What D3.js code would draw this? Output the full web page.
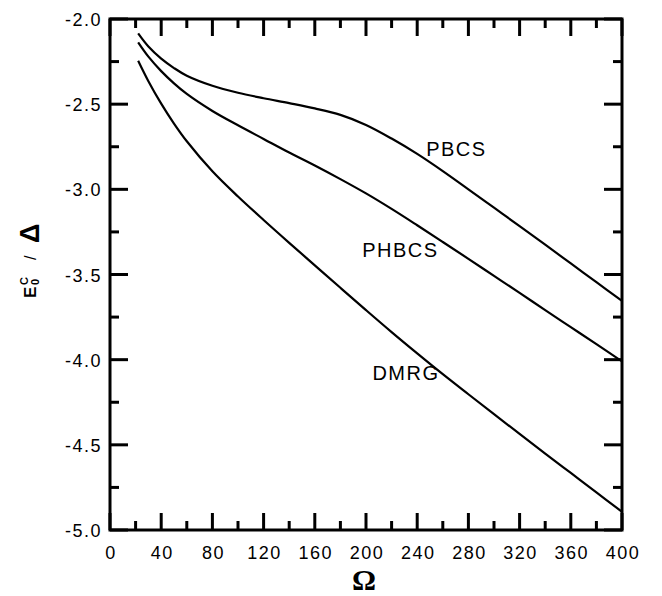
<!DOCTYPE html>
<html>
<head>
<meta charset="utf-8">
<script src="https://d3js.org/d3.v7.min.js"></script>
<style>
  body { margin: 0; background: #fff; }
  svg { display: block; }
</style>
</head>
<body>
<div id="chart"></div>
<script>
var omega = [22, 30, 40, 50, 60, 80, 100, 120, 140, 160, 180, 200, 220, 240, 260, 280, 300, 320, 340, 360, 380, 400];

var pbcs = [-2.085, -2.162, -2.233, -2.288, -2.333, -2.392, -2.433, -2.465, -2.494, -2.525, -2.563, -2.622,
            -2.702, -2.792, -2.893, -3.0, -3.108, -3.216, -3.325, -3.435, -3.545, -3.655];
var phbcs = [-2.137, -2.221, -2.306, -2.378, -2.44, -2.54, -2.624, -2.704, -2.784, -2.860, -2.940, -3.024,
             -3.115, -3.211, -3.309, -3.408, -3.508, -3.608, -3.709, -3.809, -3.909, -4.01];
var dmrg = [-2.245, -2.365, -2.497, -2.614, -2.718, -2.894, -3.042, -3.18, -3.314, -3.446, -3.578, -3.709,
            -3.838, -3.963, -4.085, -4.203, -4.32, -4.436, -4.551, -4.665, -4.779, -4.893];

var seriesNames = ["PBCS", "PHBCS", "DMRG"];
var seriesValues = [pbcs, phbcs, dmrg];
// where each curve label sits (omega, energy)
var labelPos = [[247, -2.804], [197, -3.395], [205, -4.119]];

var xTicks = [0, 40, 80, 120, 160, 200, 240, 280, 320, 360, 400];
var yTicks = [-2.0, -2.5, -3.0, -3.5, -4.0, -4.5, -5.0];

var width = 662, height = 596;
var margin = {top: 19, right: 40, bottom: 66, left: 110};

var x = d3.scaleLinear().domain([0, 400]).range([margin.left, width - margin.right]);
var y = d3.scaleLinear().domain([-5, -2]).range([height - margin.bottom, margin.top]);

var svg = d3.select("#chart").append("svg")
  .attr("width", width)
  .attr("height", height)
  .style("font-family", "'Liberation Sans', Arial, sans-serif");

// ticks on all four sides, pointing inwards
var xMinor = d3.range(0, 401, 20);
var yMinor = d3.range(-5, -1.99, 0.25);

function isMajorX(v) { return v % 40 === 0; }
function isMajorY(v) { return Math.abs(v * 2 - Math.round(v * 2)) < 1e-6; }

var ticks = svg.append("g").attr("stroke", "#000").attr("stroke-width", 3);

ticks.selectAll(".xb").data(xMinor).enter().append("line")
  .attr("x1", function(d) { return x(d); })
  .attr("x2", function(d) { return x(d); })
  .attr("y1", y(-5))
  .attr("y2", function(d) { return y(-5) - (isMajorX(d) ? 17 : 9); });
ticks.selectAll(".xt").data(xMinor).enter().append("line")
  .attr("x1", function(d) { return x(d); })
  .attr("x2", function(d) { return x(d); })
  .attr("y1", y(-2))
  .attr("y2", function(d) { return y(-2) + (isMajorX(d) ? 17 : 9); });
ticks.selectAll(".yl").data(yMinor).enter().append("line")
  .attr("y1", function(d) { return y(d); })
  .attr("y2", function(d) { return y(d); })
  .attr("x1", x(0))
  .attr("x2", function(d) { return x(0) + (isMajorY(d) ? 18 : 9); });
ticks.selectAll(".yr").data(yMinor).enter().append("line")
  .attr("y1", function(d) { return y(d); })
  .attr("y2", function(d) { return y(d); })
  .attr("x1", x(400))
  .attr("x2", function(d) { return x(400) - (isMajorY(d) ? 18 : 9); });

// frame
svg.append("rect")
  .attr("x", x(0))
  .attr("y", y(-2))
  .attr("width", x(400) - x(0))
  .attr("height", y(-5) - y(-2))
  .attr("fill", "none")
  .attr("stroke", "#000")
  .attr("stroke-width", 3);

// tick labels (plain hyphen, like the original)
svg.append("g").selectAll("text").data(xTicks).enter().append("text")
  .attr("x", function(d) { return x(d) + 1; })
  .attr("y", 559)
  .attr("text-anchor", "middle")
  .attr("font-size", 18)
  .attr("letter-spacing", 1.5)
  .text(function(d) { return d; });

svg.append("g").selectAll("text").data(yTicks).enter().append("text")
  .attr("x", 102)
  .attr("y", function(d) { return y(d) + 7; })
  .attr("text-anchor", "end")
  .attr("font-size", 18)
  .attr("letter-spacing", 1.5)
  .text(function(d) { return d.toFixed(1); });

// curves
var line = d3.line()
  .x(function(d) { return x(d[0]); })
  .y(function(d) { return y(d[1]); })
  .curve(d3.curveCatmullRom.alpha(0.5));

svg.append("g").selectAll("path").data(seriesValues).enter().append("path")
  .attr("d", function(vals) { return line(omega.map(function(o, i) { return [o, vals[i]]; })); })
  .attr("fill", "none")
  .attr("stroke", "#000")
  .attr("stroke-width", 2.2);

svg.append("g").selectAll("text").data(seriesNames).enter().append("text")
  .attr("x", function(d, i) { return x(labelPos[i][0]); })
  .attr("y", function(d, i) { return y(labelPos[i][1]); })
  .attr("font-size", 20)
  .attr("letter-spacing", 1.5)
  .text(function(d) { return d; });

// axis titles
svg.append("text")
  .attr("x", x(200) - 2)
  .attr("y", 590)
  .attr("text-anchor", "middle")
  .attr("font-family", "'Liberation Serif', 'Times New Roman', serif")
  .attr("font-weight", "bold")
  .attr("font-size", 30)
  .text("Ω");

var yt = svg.append("g").attr("transform", "translate(36,298) rotate(-90)")
  .attr("font-weight", "bold");
yt.append("text").attr("x", 0).attr("y", 0).attr("font-size", 17).text("E");
yt.append("text").attr("x", 13).attr("y", 3).attr("font-size", 11).text("0");
yt.append("text").attr("x", 13).attr("y", -8).attr("font-size", 11).text("C");
yt.append("text").attr("x", 38).attr("y", 0).attr("font-size", 16).attr("font-weight", "normal").text("/");
yt.append("text").attr("x", 55).attr("y", 3).attr("font-size", 27).text("Δ");
</script>
</body>
</html>
